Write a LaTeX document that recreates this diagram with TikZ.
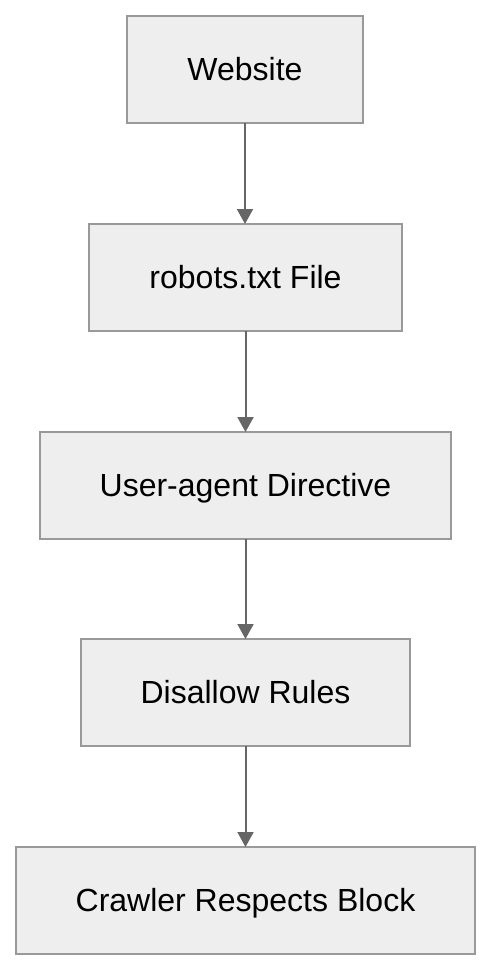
\documentclass[tikz,border=0pt]{standalone}
\usepackage{fontspec}
\setmainfont{Liberation Sans}
\usetikzlibrary{arrows.meta, positioning}
\definecolor{rbFill}{HTML}{EEEEEE}
\definecolor{rbLine}{HTML}{999999}
\definecolor{rbArrow}{HTML}{666666}
\tikzset{
  stepbox/.style={
    draw=rbLine, fill=rbFill, line width=1.2pt, minimum height=107pt,
    outer sep=0pt, font=\fontsize{32}{38}\selectfont, align=center,
    text depth=2pt
  },
  flow/.style={-{Triangle[length=15pt, width=16pt]}, line width=2pt, rbArrow}
}
\begin{document}
\begin{tikzpicture}[x=1pt, y=1pt, node distance=101pt]
  \useasboundingbox (0,0) rectangle (492,-972);
  \node[stepbox, minimum width=236pt] (site) at (245,-69.5) {Website};
  \node[stepbox, minimum width=313pt, below=of site.south, anchor=north, xshift=0.5pt] (robots) {robots.txt File};
  \node[stepbox, minimum width=411pt, below=of robots] (agent) {User-agent Directive};
  \node[stepbox, minimum width=329pt, below=100pt of agent] (rules) {Disallow Rules};
  \node[stepbox, minimum width=459pt, below=of rules] (crawler) {Crawler Respects Block};
  \draw[flow] (site.south) -- (site.south |- robots.north);
  \draw[flow] (robots) -- (agent);
  \draw[flow] (agent) -- (rules);
  \draw[flow] (rules) -- (crawler);
\end{tikzpicture}
\end{document}
